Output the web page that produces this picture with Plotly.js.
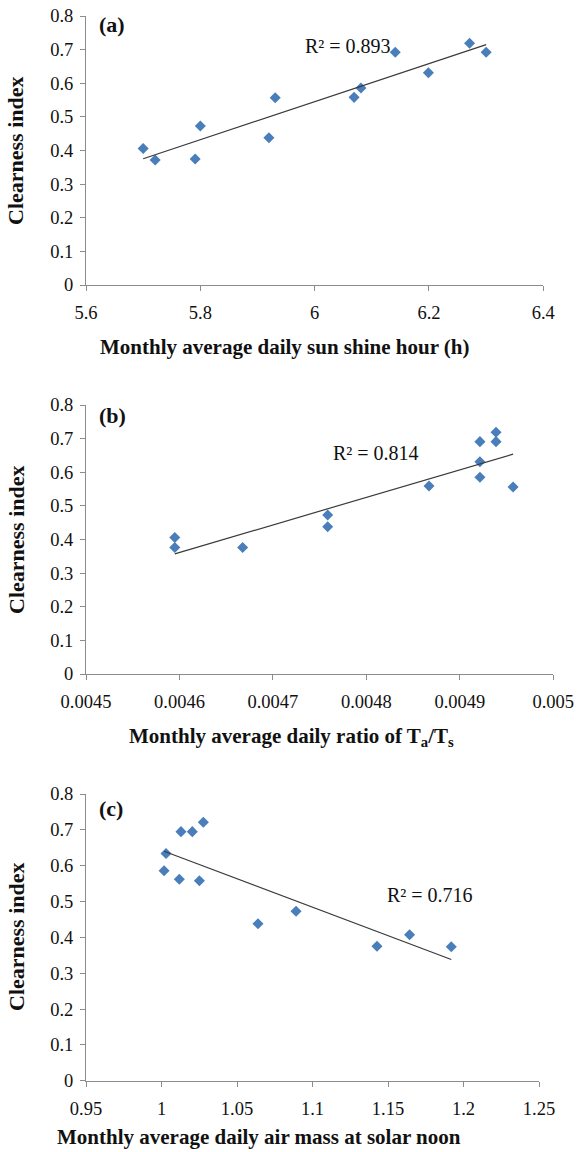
<!DOCTYPE html>
<html>
<head>
<meta charset="utf-8">
<script src="https://cdn.plot.ly/plotly-3.0.1.min.js"></script>
<style>
html,body{margin:0;padding:0;background:#fff;}
#chart{width:577px;height:1152px;}
</style>
</head>
<body>
<div id="chart"></div>
<script>
// Panel (a): sunshine hour vs clearness index
const sunHours = [5.70, 5.721, 5.791, 5.80, 5.920, 5.931, 6.069, 6.081, 6.141, 6.199, 6.271, 6.30];
const kA       = [0.406, 0.372, 0.375, 0.473, 0.438, 0.557, 0.558, 0.586, 0.692, 0.631, 0.719, 0.692];
// Panel (b): Ta/Ts ratio vs clearness index
const ratioTaTs = [0.004595, 0.004595, 0.0046676, 0.0047586, 0.0047586, 0.004867, 0.0049215, 0.0049215, 0.0049215, 0.0049387, 0.0049387, 0.004957];
const kB        = [0.406, 0.376, 0.376, 0.473, 0.438, 0.559, 0.691, 0.631, 0.585, 0.719, 0.691, 0.556];
// Panel (c): air mass vs clearness index
const airMass = [1.003, 1.0017, 1.0129, 1.0204, 1.0277, 1.0118, 1.0251, 1.0639, 1.0891, 1.1427, 1.1643, 1.1919];
const kC      = [0.634, 0.586, 0.695, 0.695, 0.721, 0.562, 0.558, 0.438, 0.473, 0.375, 0.407, 0.374];

const r2Labels = ["R\u00b2 = 0.893", "R\u00b2 = 0.814", "R\u00b2 = 0.716"];
const panelLabels = ["(a)", "(b)", "(c)"];
const xTitles = [
  "Monthly average daily sun shine hour (h)",
  "Monthly average daily ratio of T<sub>a</sub>/T<sub>s</sub>",
  "Monthly average daily air mass at solar noon"
];
const yTitle = "Clearness index";
const tickA = [5.6, 5.8, 6.0, 6.2, 6.4];
const tickAText = ["5.6", "5.8", "6", "6.2", "6.4"];
const tickB = [0.0045, 0.0046, 0.0047, 0.0048, 0.0049, 0.005];
const tickBText = ["0.0045", "0.0046", "0.0047", "0.0048", "0.0049", "0.005"];
const tickC = [0.95, 1.0, 1.05, 1.1, 1.15, 1.2, 1.25];
const tickCText = ["0.95", "1", "1.05", "1.1", "1.15", "1.2", "1.25"];
const tickY = [0, 0.1, 0.2, 0.3, 0.4, 0.5, 0.6, 0.7, 0.8];
const tickYText = ["0", "0.1", "0.2", "0.3", "0.4", "0.5", "0.6", "0.7", "0.8"];

const W = 577, H = 1152;
const px = v => v / W;
const py = v => 1 - v / H;

function fitLine(xs, ys) {
  const n = xs.length;
  const mx = xs.reduce((a, b) => a + b, 0) / n;
  const my = ys.reduce((a, b) => a + b, 0) / n;
  let sxy = 0, sxx = 0;
  for (let i = 0; i < n; i++) { sxy += (xs[i] - mx) * (ys[i] - my); sxx += (xs[i] - mx) ** 2; }
  const b = sxy / sxx, a = my - b * mx;
  const x0 = Math.min(...xs), x1 = Math.max(...xs);
  return { x: [x0, x1], y: [a + b * x0, a + b * x1] };
}

const FONT = "Liberation Serif, Times New Roman, serif";
const blue = "#4a7ebb";
const panels = [
  { xs: sunHours, ys: kA, ax: "", tv: tickA, tt: tickAText, range: [5.6, 6.4],
    dom: [86, 543.3], ydom: [16, 285] },
  { xs: ratioTaTs, ys: kB, ax: "2", tv: tickB, tt: tickBText, range: [0.0045, 0.005],
    dom: [86, 553.3], ydom: [405, 674] },
  { xs: airMass, ys: kC, ax: "3", tv: tickC, tt: tickCText, range: [0.95, 1.25],
    dom: [86, 539], ydom: [794, 1080.7] }
];

const traces = [];
const layout = {
  width: W, height: H,
  margin: { l: 0, r: 0, t: 0, b: 0 },
  paper_bgcolor: "#fff", plot_bgcolor: "#fff",
  showlegend: false,
  font: { family: FONT, size: 18, color: "#111" },
  annotations: []
};

panels.forEach((p, i) => {
  const xa = "x" + p.ax, ya = "y" + p.ax;
  traces.push({
    type: "scatter", mode: "markers", x: p.xs, y: p.ys, xaxis: xa, yaxis: ya,
    marker: { symbol: "diamond", size: 8.5, color: blue }, hoverinfo: "x+y"
  });
  const f = fitLine(p.xs, p.ys);
  traces.push({
    type: "scatter", mode: "lines", x: f.x, y: f.y, xaxis: xa, yaxis: ya,
    line: { color: "#3a3a3a", width: 1.2 }, hoverinfo: "skip"
  });
  const axCommon = {
    showgrid: false, zeroline: false, showline: true, linecolor: "#8c8c8c", linewidth: 1,
    ticks: "outside", tickcolor: "#8c8c8c", ticklen: 5, tickwidth: 1,
    tickfont: { family: FONT, size: 18.5, color: "#111" }
  };
  layout["xaxis" + p.ax] = Object.assign({}, axCommon, {
    domain: [px(p.dom[0]), px(p.dom[1])], anchor: ya, range: p.range,
    tickmode: "array", tickvals: p.tv, ticktext: p.tt, ticklabelstandoff: 6
  });
  layout["yaxis" + p.ax] = Object.assign({}, axCommon, {
    domain: [py(p.ydom[1]), py(p.ydom[0])], anchor: xa, range: [0, 0.8],
    tickmode: "array", tickvals: tickY, ticktext: tickYText, ticklabelstandoff: 3
  });
});

// Panel labels, R² labels, axis titles
const panelLabelPos = [[97, 25], [97, 415], [97, 808]];
const r2Pos = [[303, 46], [331, 453], [385, 895]];
const xTitlePos = [[285, 347], [291, 737], [259, 1137]];
const yTitlePos = [151, 540, 937];

for (let i = 0; i < 3; i++) {
  layout.annotations.push({
    xref: "paper", yref: "paper", x: px(panelLabelPos[i][0]), y: py(panelLabelPos[i][1]),
    xanchor: "left", yanchor: "middle", showarrow: false,
    text: "<b>" + panelLabels[i] + "</b>", font: { family: FONT, size: 22, color: "#111" }
  });
  layout.annotations.push({
    xref: "paper", yref: "paper", x: px(r2Pos[i][0]), y: py(r2Pos[i][1]),
    xanchor: "left", yanchor: "middle", showarrow: false,
    text: r2Labels[i], font: { family: FONT, size: 20, color: "#111" }
  });
  layout.annotations.push({
    xref: "paper", yref: "paper", x: px(xTitlePos[i][0]), y: py(xTitlePos[i][1]),
    xanchor: "center", yanchor: "middle", showarrow: false,
    text: "<b>" + xTitles[i] + "</b>", font: { family: FONT, size: 21, color: "#111" }
  });
  layout.annotations.push({
    xref: "paper", yref: "paper", x: px(16), y: py(yTitlePos[i]),
    xanchor: "center", yanchor: "middle", showarrow: false, textangle: -90,
    text: "<b>" + yTitle + "</b>", font: { family: FONT, size: 22, color: "#111" }
  });
}

Plotly.newPlot("chart", traces, layout, { staticPlot: true, displayModeBar: false });
</script>
</body>
</html>
